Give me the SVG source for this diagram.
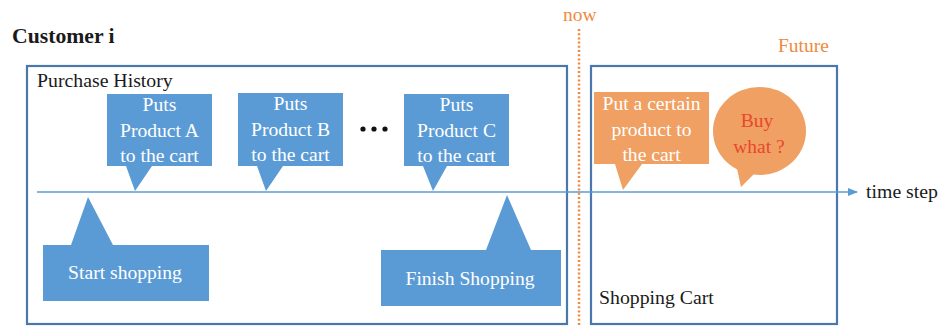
<svg xmlns="http://www.w3.org/2000/svg" width="940" height="327" viewBox="0 0 940 327">
  <style>
    .frame { fill: none; stroke: #4a78ad; stroke-width: 2.2; }
    .blue { fill: #5b9bd5; }
    .orange { fill: #f0a062; }
    .lbl { font-size: 19.8px; fill: #1a1a1a; }
    .in { font-size: 19.6px; fill: #ffffff; text-anchor: middle; }
    .note { font-size: 19.5px; fill: #f08a40; }
  </style>
  <defs>
    <marker id="arrow" viewBox="0 0 10 10" refX="9" refY="5" markerWidth="7" markerHeight="7" orient="auto">
      <path d="M0,1 L10,5 L0,9 z" fill="#5b9bd5"/>
    </marker>
  </defs>

  <rect width="940" height="327" fill="#ffffff"/>

  <g font-family="Liberation Serif, Times New Roman, serif">
  <text x="12" y="43" font-size="21.7" font-weight="bold" fill="#1a1a1a">Customer i</text>
  <text class="note" x="563" y="21">now</text>
  <text class="note" x="778" y="52">Future</text>

  <!-- section frames -->
  <g id="purchase-history">
    <rect class="frame" x="27" y="66" width="540" height="258"/>
    <text class="lbl" x="37" y="87">Purchase History</text>
  </g>
  <g id="shopping-cart">
    <rect class="frame" x="591" y="66" width="246" height="258"/>
    <text class="lbl" x="599" y="304">Shopping Cart</text>
  </g>

  <!-- time axis and "now" divider -->
  <g id="connectors">
    <line x1="37" y1="192" x2="857" y2="192" stroke="#5b9bd5" stroke-width="1.5" marker-end="url(#arrow)"/>
    <line x1="579" y1="29" x2="579" y2="327" stroke="#f08a40" stroke-width="2.5" stroke-dasharray="2 2.2"/>
  </g>
  <text class="lbl" x="866" y="198">time step</text>

  <g id="puts-a">
    <path class="blue" d="M107,94 H212 V166 H152 L135,191 L126,166 H107 Z"/>
    <text class="in" x="159.5" y="111">Puts</text>
    <text class="in" x="159.5" y="137">Product A</text>
    <text class="in" x="159.5" y="162">to the cart</text>
  </g>
  <g id="puts-b">
    <path class="blue" d="M238,93 H343 V166 H283 L266,191 L257,166 H238 Z"/>
    <text class="in" x="290.5" y="110">Puts</text>
    <text class="in" x="290.5" y="136">Product B</text>
    <text class="in" x="290.5" y="161">to the cart</text>
  </g>
  <g id="ellipsis">
    <circle cx="363" cy="129" r="2.6" fill="#111"/>
    <circle cx="374" cy="129" r="2.6" fill="#111"/>
    <circle cx="385" cy="129" r="2.6" fill="#111"/>
  </g>
  <g id="puts-c">
    <path class="blue" d="M404,94 H509 V166 H447 L433,191 L423,166 H404 Z"/>
    <text class="in" x="456.5" y="111">Puts</text>
    <text class="in" x="456.5" y="137">Product C</text>
    <text class="in" x="456.5" y="162">to the cart</text>
  </g>
  <g id="start-shopping">
    <path class="blue" d="M43,245 H71 L88,197 L113,245 H209 V301 H43 Z"/>
    <text class="in" x="125" y="279">Start shopping</text>
  </g>
  <g id="finish-shopping">
    <path class="blue" d="M381,250 H486 L507,195 L531,250 H561 V306 H381 Z"/>
    <text class="in" x="470" y="285">Finish Shopping</text>
  </g>
  <g id="put-certain">
    <path class="orange" d="M594,92 H709 V164 H642 L623,190 L615,164 H594 Z"/>
    <text class="in" x="651.5" y="110">Put a certain</text>
    <text class="in" x="651.5" y="136">product to</text>
    <text class="in" x="651.5" y="161">the cart</text>
  </g>
  <g id="buy-what">
    <ellipse class="orange" cx="759.5" cy="131" rx="46.5" ry="44"/>
    <polygon class="orange" points="736,164 756,172 741,187"/>
    <text x="757" y="127" font-size="19.5" fill="#e8482c" text-anchor="middle">Buy</text>
    <text x="759" y="153" font-size="19.5" fill="#e8482c" text-anchor="middle">what ?</text>
  </g>
  </g>
</svg>
